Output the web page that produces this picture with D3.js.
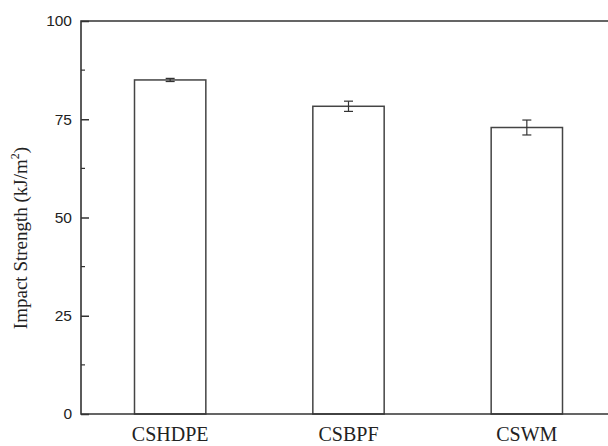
<!DOCTYPE html>
<html>
<head>
<meta charset="utf-8">
<script src="https://cdn.jsdelivr.net/npm/d3@7"></script>
<style>
    body { margin: 0; background: #fff; }
    svg { display: block; }
</style>
</head>
<body>
<div id="chart"></div>
<script>
const categories = ['CSHDPE', 'CSBPF', 'CSWM']
const strengths = [85.0, 78.3, 72.9]
const errors = [0.4, 1.3, 1.9]
const yTicks = [0, 25, 50, 75, 100]
const yMinorTicks = [12.5, 37.5, 62.5, 87.5]

document.addEventListener('DOMContentLoaded', function() {

    const width = 608
    const height = 446
    const left = 81
    const top = 21
    const bottom = 414
    const right = 616

    const svg = d3.select('#chart').append('svg')
        .attr('width', width)
        .attr('height', height)

    const x = d3.scaleBand()
        .domain(categories)
        .range([left, right])
        .paddingInner(0.6)
        .paddingOuter(0.3)

    const y = d3.scaleLinear()
        .domain([0, 100])
        .range([bottom, top])

    const ink = '#333'

    // bars
    svg.append('g').selectAll('rect')
        .data(categories)
        .enter().append('rect')
            .attr('x', d => x(d))
            .attr('y', (d, i) => y(strengths[i]))
            .attr('width', x.bandwidth())
            .attr('height', (d, i) => y(0) - y(strengths[i]))
            .attr('fill', 'none')
            .attr('stroke', '#444')
            .attr('stroke-width', 1.5)

    // error bars
    const err = svg.append('g')
        .attr('stroke', '#333')
        .attr('stroke-width', 1.2)
    categories.forEach(function(c, i) {
        const cx = x(c) + x.bandwidth() / 2
        const y0 = y(strengths[i] - errors[i])
        const y1 = y(strengths[i] + errors[i])
        err.append('line').attr('x1', cx).attr('x2', cx).attr('y1', y0).attr('y2', y1)
        err.append('line').attr('x1', cx - 4.5).attr('x2', cx + 4.5).attr('y1', y0).attr('y2', y0)
        err.append('line').attr('x1', cx - 4.5).attr('x2', cx + 4.5).attr('y1', y1).attr('y2', y1)
    })

    // frame
    svg.append('path')
        .attr('d', `M${right},${top}H${left}V${bottom}H${right}`)
        .attr('fill', 'none')
        .attr('stroke', ink)
        .attr('stroke-width', 1.6)

    // y axis, ticks pointing in
    const yAxis = d3.axisLeft(y)
        .tickValues(yTicks)
        .tickSize(-8)
        .tickPadding(9)
        .tickFormat(d3.format('d'))

    const yAxisG = svg.append('g')
        .attr('transform', `translate(${left},0)`)
        .call(yAxis)
    yAxisG.select('.domain').remove()
    yAxisG.selectAll('line').attr('stroke', ink).attr('stroke-width', 1.5)
    yAxisG.selectAll('text')
        .attr('fill', '#222')
        .style('font-family', '"Liberation Sans", Arial, sans-serif')
        .style('font-size', '15.5px')

    svg.append('g').selectAll('line')
        .data(yMinorTicks)
        .enter().append('line')
            .attr('x1', left).attr('x2', left + 4)
            .attr('y1', d => y(d)).attr('y2', d => y(d))
            .attr('stroke', ink)
            .attr('stroke-width', 1.2)

    // category labels
    svg.append('g').selectAll('text')
        .data(categories)
        .enter().append('text')
            .attr('x', d => x(d) + x.bandwidth() / 2)
            .attr('y', 441)
            .attr('text-anchor', 'middle')
            .attr('fill', '#222')
            .style('font-family', '"Liberation Serif", "Times New Roman", serif')
            .style('font-size', '20px')
            .text(d => d)

    // y title
    const title = svg.append('text')
        .attr('transform', 'translate(27,238) rotate(-90)')
        .attr('text-anchor', 'middle')
        .attr('fill', '#222')
        .style('font-family', '"Liberation Serif", "Times New Roman", serif')
        .style('font-size', '19px')
    title.append('tspan').text('Impact Strength (kJ/m')
    title.append('tspan').attr('dy', -8).style('font-size', '12px').text('2')
    title.append('tspan').attr('dy', 8).text(')')
})
</script>
</body>
</html>
